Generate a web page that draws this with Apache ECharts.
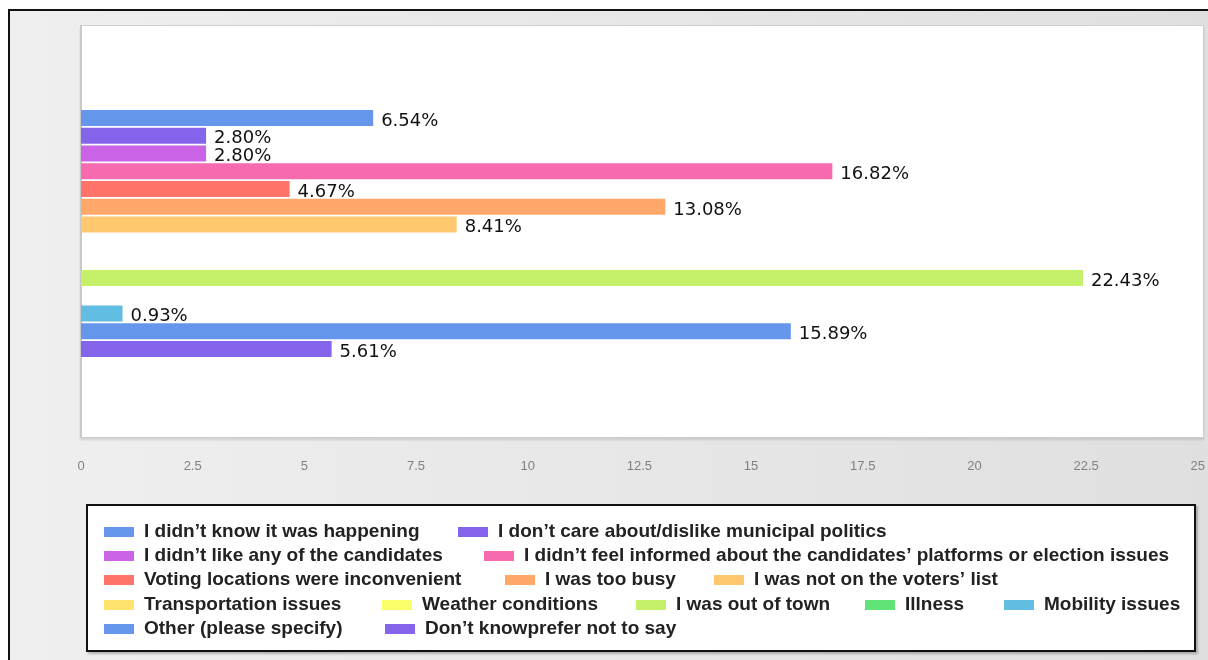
<!DOCTYPE html>
<html>
<head>
<meta charset="utf-8">
<script src="https://cdn.jsdelivr.net/npm/echarts@6/dist/echarts.min.js"></script>
<style>
  html, body { margin: 0; padding: 0; background: #fff; }
  #wrap { position: relative; width: 1208px; height: 660px; overflow: hidden; }
  #frame { position: absolute; left: 8px; top: 9px; width: 1300px; height: 700px;
           border: 2px solid #111; background: linear-gradient(to right, #efefef, #dedede); }
  #plot { position: absolute; left: 80px; top: 25px; width: 1121px; height: 411px;
          background: #fff; border: 1px solid #cfcfcf; border-left: 2px solid #c8c8c8;
          box-shadow: 0 2px 2px rgba(0,0,0,0.12); }
  #legbox { position: absolute; left: 86px; top: 504px; width: 1106px; height: 144px;
            background: #fff; border: 2px solid #111; box-shadow: 2px 2px 2px rgba(0,0,0,0.25); }
  #chart { position: absolute; left: 0; top: 0; width: 1208px; height: 660px; }
</style>
</head>
<body>
<div id="wrap">
  <div id="frame"></div>
  <div id="plot"></div>
  <div id="legbox"></div>
  <div id="chart"></div>
</div>
<script>
// ---- data ----
const seriesNames = [
  'I didn\u2019t know it was happening',
  'I don\u2019t care about/dislike municipal politics',
  'I didn\u2019t like any of the candidates',
  'I didn\u2019t feel informed about the candidates\u2019 platforms or election issues',
  'Voting locations were inconvenient',
  'I was too busy',
  'I was not on the voters\u2019 list',
  'Transportation issues',
  'Weather conditions',
  'I was out of town',
  'Illness',
  'Mobility issues',
  'Other (please specify)',
  'Don\u2019t knowprefer not to say'
];
const seriesValues = [6.54, 2.80, 2.80, 16.82, 4.67, 13.08, 8.41, 0, 0, 22.43, 0, 0.93, 15.89, 5.61];
const seriesColors = ['#6596EB', '#8464EA', '#CA63E6', '#F66AAF', '#FF7369', '#FFA86A', '#FFC76E',
                      '#FFE36E', '#FAFF6A', '#C4F06A', '#5FE278', '#62BDE2', '#6596EB', '#8464EA'];
const categories = [''];
const xMin = 0, xMax = 25, xInterval = 2.5;

// ---- layout (legend item anchor points) ----
const legendAnchors = [[104,532],[458,532],[104,556],[484,556],[104,580],[505,580],[714,580],
                       [104,605],[382,605],[636,605],[865,605],[1004,605],[104,629],[385,629]];

const chart = echarts.init(document.getElementById('chart'), null, { renderer: 'canvas' });

const series = seriesNames.map((name, i) => ({
  name: name,
  type: 'bar',
  data: [seriesValues[i]],
  barWidth: 16,
  barGap: '11%',
  itemStyle: { color: seriesColors[i], borderWidth: 0 },
  label: {
    show: true,
    position: 'right',
    distance: 8,
    offset: [0, 3],
    fontSize: 18,
    fontFamily: 'DejaVu Sans, Verdana, sans-serif',
    color: '#111',
    formatter: p => (p.value ? p.value.toFixed(2) + '%' : '')
  },
  emphasis: { disabled: true },
  animation: false
}));

const legends = seriesNames.map((name, i) => ({
  left: legendAnchors[i][0],
  top: legendAnchors[i][1] - 10,
  orient: 'horizontal',
  padding: 0,
  data: [{ name: name, icon: 'rect' }],
  itemWidth: 30,
  itemHeight: 10,
  selectedMode: false,
  itemStyle: { borderWidth: 0 },
  textStyle: {
    fontSize: 19,
    fontWeight: 'bold',
    fontFamily: 'Liberation Sans, Arial, sans-serif',
    color: '#222',
    lineHeight: 20,
    padding: [0, 0, 0, 5]
  }
}));

chart.setOption({
  animation: false,
  backgroundColor: 'transparent',
  grid: { left: 81, top: 27, width: 1120, height: 413, containLabel: false },
  xAxis: {
    type: 'value',
    min: xMin, max: xMax, interval: xInterval,
    axisLine: { show: false },
    axisTick: { show: false },
    splitLine: { show: false },
    axisLabel: {
      margin: 20,
      color: '#808080',
      fontSize: 13,
      fontFamily: 'Liberation Sans, Arial, sans-serif',
      formatter: v => String(v)
    }
  },
  yAxis: { type: 'category', data: categories, show: false },
  legend: legends,
  tooltip: { show: false },
  series: series
});
</script>
</body>
</html>
